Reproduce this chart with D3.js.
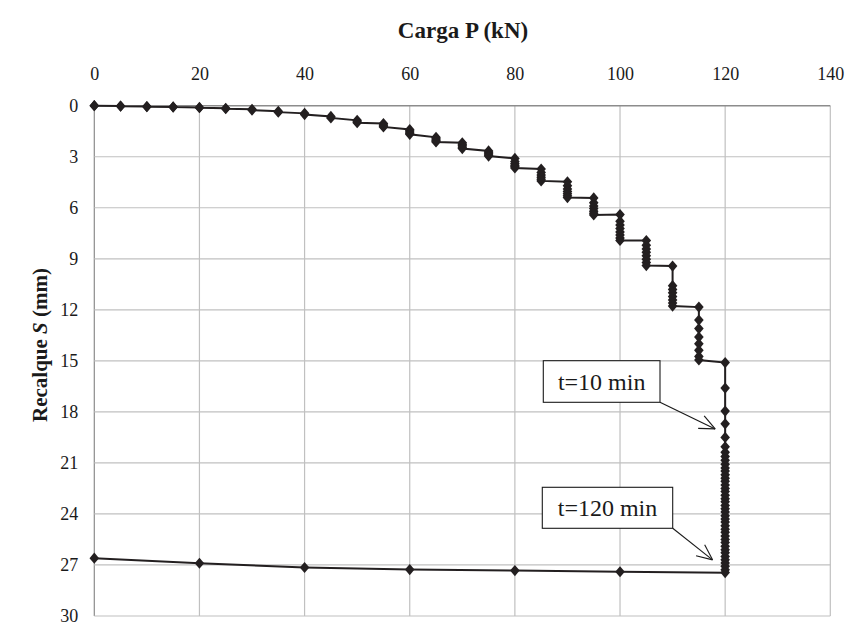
<!DOCTYPE html>
<html>
<head>
<meta charset="utf-8">
<script src="https://cdn.jsdelivr.net/npm/d3@7"></script>
<style>
  html, body { margin: 0; padding: 0; background: #fff; }
  svg { display: block; }
  text { font-family: "Liberation Serif", "DejaVu Serif", serif; fill: #1a1a1a; }
</style>
</head>
<body>
<svg id="chart" width="850" height="626"></svg>
<script>
// ---------- data ----------
const stageLoads = [0, 5, 10, 15, 20, 25, 30, 35, 40, 45, 50, 55, 60, 65, 70, 75, 80, 85, 90, 95, 100, 105, 110, 115, 120];
const stageSettlements = [
  [0, 0],
  [0.02, 0.03],
  [0.05, 0.06],
  [0.07, 0.08],
  [0.10, 0.12],
  [0.15, 0.18],
  [0.21, 0.26],
  [0.33, 0.38],
  [0.45, 0.52],
  [0.63, 0.72],
  [0.86, 0.95, 1.0],
  [1.05, 1.14, 1.2, 1.25],
  [1.4, 1.48, 1.55, 1.62, 1.68],
  [1.86, 1.95, 2.02, 2.08, 2.13],
  [2.18, 2.27, 2.36, 2.44, 2.52],
  [2.66, 2.74, 2.82, 2.9, 2.96],
  [3.1, 3.28, 3.4, 3.5, 3.58, 3.66],
  [3.72, 3.92, 4.08, 4.2, 4.32, 4.42],
  [4.47, 4.7, 4.9, 5.05, 5.17, 5.3, 5.4],
  [5.42, 5.7, 5.9, 6.05, 6.2, 6.32, 6.42],
  [6.4, 6.8, 7.02, 7.22, 7.42, 7.6, 7.78, 7.92],
  [7.93, 8.2, 8.42, 8.62, 8.82, 9.02, 9.22, 9.4],
  [9.43, 10.58, 10.8, 11.0, 11.22, 11.42, 11.6, 11.78],
  [11.84, 12.6, 13.1, 13.6, 14.0, 14.38, 14.74, 14.95],
  [15.1, 16.6, 17.95, 18.7, 19.5, 20.05, 20.38, 20.62, 20.85, 21.08, 21.3, 21.48, 21.7, 21.9, 22.08,
   22.3, 22.5, 22.68, 22.9, 23.1, 23.28, 23.5, 23.7, 23.88, 24.1, 24.3, 24.48, 24.7, 24.9, 25.08,
   25.3, 25.5, 25.68, 25.9, 26.1, 26.28, 26.5, 26.7, 26.88, 27.08, 27.28, 27.45]
];
const unloadLoads = [100, 80, 60, 40, 20, 0];
const unloadSettlements = [27.4, 27.33, 27.27, 27.15, 26.9, 26.6];

const xTicks = [0, 20, 40, 60, 80, 100, 120, 140];
const yTicks = [0, 3, 6, 9, 12, 15, 18, 21, 24, 27, 30];

const xTitle = "Carga P (kN)";
const annotationTexts = ["t=10 min", "t=120 min"];
const annotationTargets = [[118.1, 19.0], [117.6, 26.7]];

// ---------- layout ----------
const SERIF = '"Liberation Serif", "DejaVu Serif", serif';
const svg = d3.select("#chart");
const x = d3.scaleLinear().domain([0, 140]).range([94.3, 830.3]);
const y = d3.scaleLinear().domain([0, 30]).range([105.7, 616]);

// build point list
const points = [];
stageLoads.forEach((p, i) => stageSettlements[i].forEach(s => points.push([p, s])));
unloadLoads.forEach((p, i) => points.push([p, unloadSettlements[i]]));

// gridlines
const grid = svg.append("g");
grid.selectAll("line.v").data(xTicks).join("line")
  .attr("x1", d => x(d)).attr("x2", d => x(d))
  .attr("y1", y(0)).attr("y2", y(30))
  .attr("stroke", d => d === 0 ? "#8c8c8c" : "#c0c0c0").attr("stroke-width", 1.2);
grid.selectAll("line.h").data(yTicks).join("line")
  .attr("x1", x(0)).attr("x2", x(140))
  .attr("y1", d => y(d)).attr("y2", d => y(d))
  .attr("stroke", d => d === 0 ? "#8c8c8c" : "#c0c0c0").attr("stroke-width", d => d === 0 ? 1.6 : 1.2);

// axes labels via d3 axes
const xAxis = svg.append("g").attr("transform", `translate(0,${y(0) - 26})`)
  .call(d3.axisTop(x).tickValues(xTicks).tickSize(0).tickPadding(0));
xAxis.select(".domain").remove();
xAxis.attr("font-family", null);
xAxis.selectAll("text").attr("font-size", 18).style("font-family", SERIF).style("fill", "#1a1a1a");

const yAxis = svg.append("g").attr("transform", `translate(${x(0) - 16},0)`)
  .call(d3.axisLeft(y).tickValues(yTicks).tickSize(0).tickPadding(0));
yAxis.select(".domain").remove();
yAxis.attr("font-family", null);
yAxis.selectAll("text").attr("font-size", 18).style("font-family", SERIF).style("fill", "#1a1a1a");

// titles
svg.append("text").attr("x", 463).attr("y", 38).attr("text-anchor", "middle")
  .style("font-family", SERIF).attr("font-size", 23).attr("font-weight", "bold").text(xTitle);

const yt = svg.append("text").attr("transform", "translate(47,345) rotate(-90)")
  .style("font-family", SERIF).attr("text-anchor", "middle").attr("font-size", 21).attr("font-weight", "bold");
yt.append("tspan").text("Recalque ");
yt.append("tspan").attr("font-style", "italic").text("S");
yt.append("tspan").text(" (mm)");

// line
const line = d3.line().x(d => x(d[0])).y(d => y(d[1]));
svg.append("path").datum(points).attr("d", line)
  .attr("fill", "none").attr("stroke", "#231f20").attr("stroke-width", 2);

// markers (diamond)
const diamond = {
  draw(ctx, size) {
    const w = 4.8, h = 5.6;
    ctx.moveTo(0, -h); ctx.lineTo(w, 0); ctx.lineTo(0, h); ctx.lineTo(-w, 0); ctx.closePath();
  }
};
svg.append("g").selectAll("path").data(points).join("path")
  .attr("transform", d => `translate(${x(d[0])},${y(d[1])})`)
  .attr("d", d3.symbol().type(diamond)())
  .attr("fill", "#231f20");

// annotations
const boxes = [
  { x0: 543.3, y0: 360.7, x1: 660, y1: 402.3 },
  { x0: 542.3, y0: 487.3, x1: 672.7, y1: 528.3 }
];
annotationTexts.forEach((t, i) => {
  const b = boxes[i];
  const tx = x(annotationTargets[i][0]), ty = y(annotationTargets[i][1]);
  const g = svg.append("g");
  g.append("line").attr("x1", b.x1).attr("y1", b.y1).attr("x2", tx).attr("y2", ty)
    .attr("stroke", "#1a1a1a").attr("stroke-width", 1.1);
  const ang = Math.atan2(ty - b.y1, tx - b.x1);
  const L = 17, spread = 0.42;
  [ang + Math.PI - spread, ang + Math.PI + spread].forEach(a => {
    g.append("line").attr("x1", tx).attr("y1", ty)
      .attr("x2", tx + L * Math.cos(a)).attr("y2", ty + L * Math.sin(a))
      .attr("stroke", "#1a1a1a").attr("stroke-width", 1.1);
  });
  g.append("rect").attr("x", b.x0).attr("y", b.y0).attr("width", b.x1 - b.x0).attr("height", b.y1 - b.y0)
    .attr("fill", "#fff").attr("stroke", "#1a1a1a").attr("stroke-width", 1.1);
  g.append("text").attr("x", (b.x0 + b.x1) / 2).attr("y", (b.y0 + b.y1) / 2 + 8)
    .style("font-family", SERIF).attr("text-anchor", "middle").attr("font-size", 24).text(t);
});
</script>
</body>
</html>
